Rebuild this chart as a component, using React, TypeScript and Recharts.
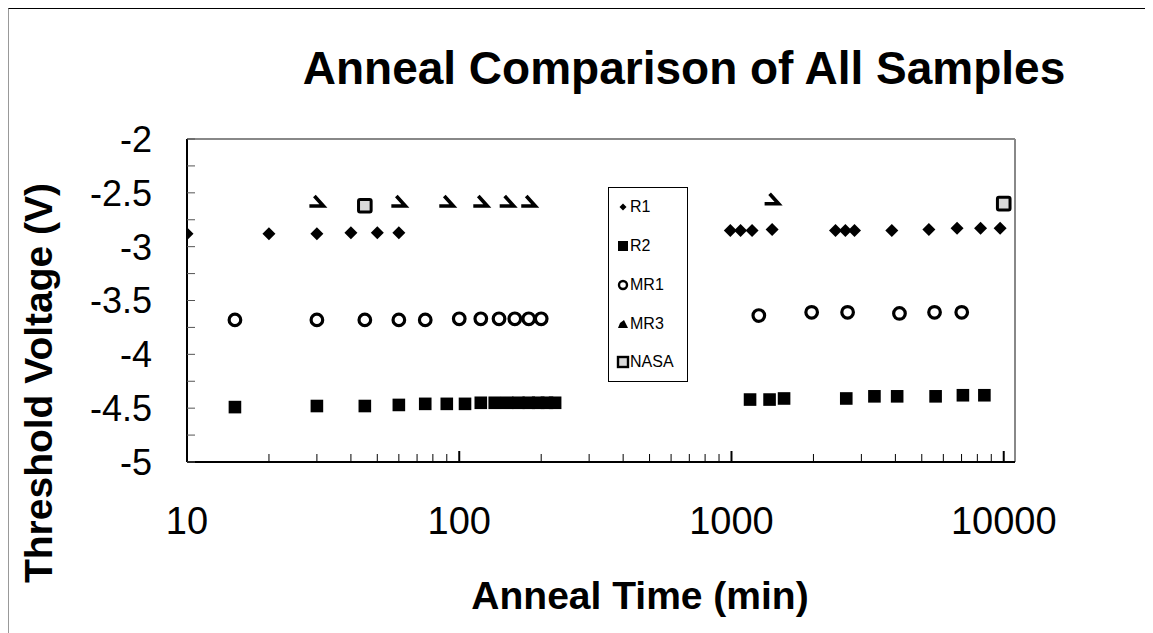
import React from 'react';
import {
  ScatterChart,
  Scatter,
  XAxis,
  YAxis,
  ReferenceLine,
  Legend
} from 'recharts';

const FONT = '"Liberation Sans", Arial, sans-serif';

// anneal times (min) and threshold voltages (V)
const R1_TIME = [10, 20, 30, 40, 50, 60, 990, 1080, 1190, 1410, 2410, 2620, 2830, 3880, 5310, 6740, 8220, 9700];
const R1_VOLT = [-2.88, -2.88, -2.88, -2.87, -2.87, -2.87, -2.85, -2.85, -2.85, -2.84, -2.85, -2.85, -2.85, -2.85, -2.84, -2.83, -2.83, -2.83];

const R2_TIME = [15, 30, 45, 60, 75, 90, 105, 120, 135, 150, 165, 180, 195, 210, 225, 1170, 1380, 1560, 2640, 3350, 4060, 5620, 7080, 8490];
const R2_VOLT = [-4.49, -4.48, -4.48, -4.47, -4.46, -4.46, -4.46, -4.45, -4.45, -4.45, -4.45, -4.45, -4.45, -4.45, -4.45, -4.42, -4.42, -4.41, -4.41, -4.39, -4.39, -4.39, -4.38, -4.38];

const MR1_TIME = [15, 30, 45, 60, 75, 100, 120, 140, 160, 180, 200, 1260, 1970, 2670, 4140, 5570, 7010];
const MR1_VOLT = [-3.68, -3.68, -3.68, -3.68, -3.68, -3.67, -3.67, -3.67, -3.67, -3.67, -3.67, -3.64, -3.61, -3.61, -3.62, -3.61, -3.61];

const MR3_TIME = [30, 60, 90, 120, 150, 180, 1410];
const MR3_VOLT = [-2.58, -2.58, -2.58, -2.58, -2.58, -2.58, -2.56];

const NASA_TIME = [45, 10000];
const NASA_VOLT = [-2.62, -2.6];

const X_TICKS = [10, 20, 30, 40, 50, 60, 70, 80, 90, 100, 200, 300, 400, 500, 600, 700, 800, 900,
  1000, 2000, 3000, 4000, 5000, 6000, 7000, 8000, 9000, 10000];
const X_MAJOR = [10, 100, 1000, 10000];
const Y_TICKS = [-5, -4.75, -4.5, -4.25, -4, -3.75, -3.5, -3.25, -3, -2.75, -2.5, -2.25, -2];
const Y_LABELED = [-5, -4.5, -4, -3.5, -3, -2.5, -2];

const zip = (t: number[], v: number[]) => t.map((x, i) => ({ x, y: v[i] }));

// marker shapes
const Diamond = ({ cx, cy }: any) => (
  <polygon points={`${cx},${cy - 6.5} ${cx + 6.5},${cy} ${cx},${cy + 6.5} ${cx - 6.5},${cy}`} fill="#000" />
);
const Square = ({ cx, cy }: any) => (
  <rect x={cx - 6.3} y={cy - 6.3} width={12.6} height={12.6} fill="#000" />
);
const Ring = ({ cx, cy }: any) => (
  <circle cx={cx} cy={cy} r={5.8} fill="#fff" stroke="#000" strokeWidth={3.2} />
);
const Wedge = ({ cx, cy }: any) => (
  <path d={`M${cx - 7.5},${cy + 4.5} L${cx + 6.5},${cy + 4.5} L${cx - 2.5},${cy - 5.5}`} fill="none" stroke="#000" strokeWidth={3.6} strokeLinejoin="miter" />
);
const NasaBox = ({ cx, cy }: any) => (
  <rect x={cx - 6.3} y={cy - 6.3} width={12.6} height={12.6} fill="#d9d9d9" stroke="#000" strokeWidth={3} rx={1.5} />
);

const SERIES = [
  { name: 'R1', data: zip(R1_TIME, R1_VOLT), shape: Diamond },
  { name: 'R2', data: zip(R2_TIME, R2_VOLT), shape: Square },
  { name: 'MR1', data: zip(MR1_TIME, MR1_VOLT), shape: Ring },
  { name: 'MR3', data: zip(MR3_TIME, MR3_VOLT), shape: Wedge },
  { name: 'NASA', data: zip(NASA_TIME, NASA_VOLT), shape: NasaBox },
];

const legendMarker = (name: string) => {
  switch (name) {
    case 'R1':
      return <polygon points="7,3.5 10.5,7 7,10.5 3.5,7" fill="#000" />;
    case 'R2':
      return <rect x={2} y={2} width={10} height={10} fill="#000" />;
    case 'MR1':
      return <circle cx={7} cy={7} r={4} fill="#fff" stroke="#000" strokeWidth={2.4} />;
    case 'MR3':
      return <polygon points="2,11 12,11 8,3 4,6" fill="#000" />;
    default:
      return <rect x={2} y={2} width={10} height={10} fill="#d9d9d9" stroke="#000" strokeWidth={2.4} />;
  }
};

const renderLegend = () => (
  <div style={{ width: 78, height: 193, border: '1px solid #000', background: '#fff', position: 'relative', fontFamily: FONT, fontSize: 16, color: '#000' }}>
    {SERIES.map((s, i) => (
      <div key={s.name} style={{ position: 'absolute', left: 7, top: 19.4 + i * 38.75 - 10, height: 20, display: 'flex', alignItems: 'center' }}>
        <svg width={14} height={14} style={{ display: 'block' }}>{legendMarker(s.name)}</svg>
        <span style={{ marginLeft: 0, lineHeight: '20px' }}>{s.name}</span>
      </div>
    ))}
  </div>
);

const XTick = (props: any) => {
  const { x, y, payload } = props;
  const v = payload.value;
  const major = X_MAJOR.includes(v);
  return (
    <g>
      <line x1={x} x2={x} y1={y} y2={y - (major ? 11 : 8)} stroke="#000" strokeWidth={major ? 2 : 1} />
      {major && (
        <text x={x} y={y + 72} textAnchor="middle" fontSize={38} fontFamily={FONT} fill="#000">{v}</text>
      )}
    </g>
  );
};

const YTick = (props: any) => {
  const { x, y, payload } = props;
  const v = payload.value;
  const labeled = Y_LABELED.includes(v);
  return (
    <g>
      <line x1={x} x2={x + 8} y1={y} y2={y} stroke="#555" strokeWidth={1} />
      {labeled && (
        <text x={x - 35} y={y} dy="0.36em" textAnchor="end" fontSize={36} fontFamily={FONT} fill="#000">{v}</text>
      )}
    </g>
  );
};

export default function App() {
  return (
    <div style={{ position: 'relative', width: 1144, height: 624, borderTop: '1px solid #000', borderLeft: '1px solid #999', background: '#fff' }}>
      <ScatterChart width={1144} height={624} margin={{ top: 130, right: 138, bottom: 141, left: 118 }}>
        <XAxis
          dataKey="x"
          type="number"
          scale="log"
          domain={[10, 11000]}
          ticks={X_TICKS}
          interval={0}
          height={30}
          tickLine={false}
          tickSize={0}
          tickMargin={0}
          axisLine={{ stroke: '#000', strokeWidth: 2 }}
          tick={<XTick />}
          allowDataOverflow
        />
        <YAxis
          dataKey="y"
          type="number"
          domain={[-5, -2]}
          ticks={Y_TICKS}
          interval={0}
          width={60}
          tickLine={false}
          tickSize={0}
          tickMargin={0}
          axisLine={{ stroke: '#000', strokeWidth: 2 }}
          tick={<YTick />}
          allowDataOverflow
        />
        <ReferenceLine y={-2} stroke="#888" strokeWidth={2} />
        <ReferenceLine x={11000} stroke="#888" strokeWidth={2} />
        <Legend
          layout="vertical"
          align="center"
          verticalAlign="middle"
          content={renderLegend}
          wrapperStyle={{ left: 599, top: 178, width: 80, height: 195 }}
        />
        {SERIES.map(s => (
          <Scatter key={s.name} name={s.name} data={s.data} shape={s.shape} isAnimationActive={false} />
        ))}
      </ScatterChart>
      <svg width={1144} height={624} style={{ position: 'absolute', left: 0, top: 0, pointerEvents: 'none' }}>
        <text x={675} y={75} textAnchor="middle" fontSize={46} fontWeight="bold" fontFamily={FONT} fill="#000">
          Anneal Comparison of All Samples
        </text>
        <text x={631} y={600} textAnchor="middle" fontSize={39} fontWeight="bold" fontFamily={FONT} fill="#000">
          Anneal Time (min)
        </text>
        <text transform="translate(43,374) rotate(-90)" textAnchor="middle" fontSize={39} fontWeight="bold" fontFamily={FONT} fill="#000">
          Threshold Voltage (V)
        </text>
      </svg>
    </div>
  );
}
